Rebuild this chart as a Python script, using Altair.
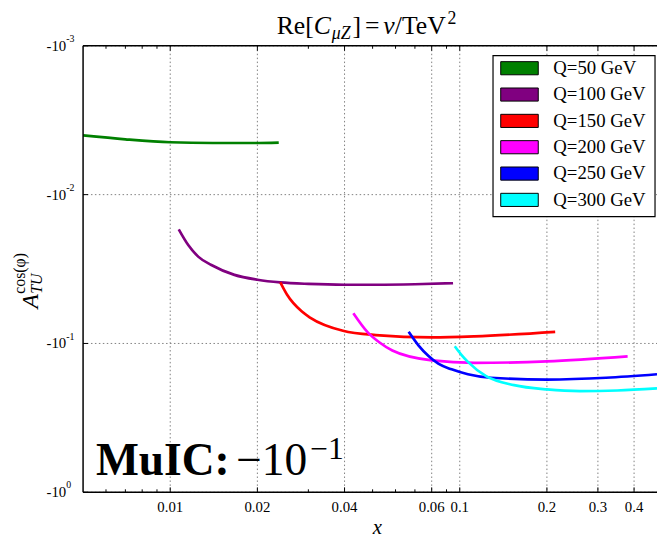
import altair as alt
import pandas as pd

# ---------------- data ----------------
series_labels = ["Q=50 GeV", "Q=100 GeV", "Q=150 GeV", "Q=200 GeV", "Q=250 GeV", "Q=300 GeV"]
series_colors = ["#008000", "#800080", "#ff0000", "#ff00ff", "#0000ff", "#00ffff"]

x_q50 = [0.005, 0.007, 0.01, 0.014, 0.019, 0.0237]
a_q50 = [-4.0e-3, -4.25e-3, -4.45e-3, -4.5e-3, -4.5e-3, -4.47e-3]

x_q100 = [0.0107, 0.01154, 0.01249, 0.01387, 0.01666, 0.02, 0.024, 0.03, 0.04, 0.0513, 0.07, 0.0948]
a_q100 = [-17.1e-3, -21.8e-3, -26.1e-3, -29.7e-3, -34.6e-3, -37.3e-3, -38.9e-3, -39.8e-3, -40.3e-3, -40.3e-3, -40.0e-3, -39.3e-3]

x_q150 = [0.0240, 0.0253, 0.0285, 0.0304, 0.0395, 0.0513, 0.0801, 0.1125, 0.2136]
a_q150 = [-38.9e-3, -46.9e-3, -61.1e-3, -67.0e-3, -82.2e-3, -87.8e-3, -91.0e-3, -89.6e-3, -83.5e-3]

x_q200 = [0.0429, 0.0481, 0.0527, 0.0585, 0.0801, 0.1125, 0.2, 0.38]
a_q200 = [-62.7e-3, -84.3e-3, -98.2e-3, -111.6e-3, -130e-3, -135e-3, -132e-3, -122e-3]

x_q250 = [0.0666, 0.0721, 0.078, 0.0843, 0.0937, 0.1067, 0.128, 0.2, 0.32, 0.48]
a_q250 = [-83.5e-3, -103.4e-3, -121.6e-3, -136.8e-3, -149.3e-3, -161e-3, -170e-3, -174.8e-3, -170e-3, -161e-3]

x_q300 = [0.0961, 0.1013, 0.1067, 0.1233, 0.154, 0.2, 0.26, 0.35, 0.48]
a_q300 = [-104.4e-3, -119.2e-3, -133e-3, -166e-3, -190.5e-3, -203.6e-3, -209e-3, -207e-3, -200.5e-3]

x_tick_values = [0.01, 0.02, 0.04, 0.08, 0.1, 0.2, 0.3, 0.4]
x_tick_labels = ["0.01", "0.02", "0.04", "0.06", "0.1", "0.2", "0.3", "0.4"]
x_minor_ticks = [0.006, 0.007, 0.008, 0.009, 0.03, 0.05, 0.06, 0.07, 0.09]
y_tick_values = [1e-3, 1e-2, 1e-1, 1.0]          # magnitudes of -10^k
y_tick_exponents = ["-3", "-2", "-1", "0"]

# ---------------- tables ----------------
xs_all = [x_q50, x_q100, x_q150, x_q200, x_q250, x_q300]
as_all = [a_q50, a_q100, a_q150, a_q200, a_q250, a_q300]
rows = []
for lab, xv, av in zip(series_labels, xs_all, as_all):
    for xx, aa in zip(xv, av):
        rows.append({"series": lab, "x": xx, "A": aa})
df_lines = pd.DataFrame(rows)

W, H = 581, 452
SERIF = "Liberation Serif"

xscale = alt.Scale(type="log", domain=[0.005, 0.48], nice=False)
yscale = alt.Scale(type="log", domain=[1e-3, 1.0], reverse=True, nice=False)
cscale = alt.Scale(domain=series_labels, range=series_colors)

X = lambda f: alt.X(f, scale=xscale, axis=None)
Y = lambda f: alt.Y(f, scale=yscale, axis=None)

one = pd.DataFrame({"k": [0]})
df_xmaj = pd.DataFrame({"x": x_tick_values, "label": x_tick_labels})
df_xmin = pd.DataFrame({"x": x_minor_ticks})
df_yt = pd.DataFrame({"mag": y_tick_values, "exp": y_tick_exponents})

GRID = dict(color="#808080", strokeWidth=1, strokeDash=[1.5, 2.5])

xgrid = alt.Chart(df_xmaj).mark_rule(**GRID).encode(x=X("x:Q"), y=alt.value(0), y2=alt.value(H))
ygrid = alt.Chart(df_yt).mark_rule(**GRID).encode(y=Y("mag:Q"), x=alt.value(0), x2=alt.value(W))

lines = alt.Chart(df_lines).transform_calculate(mag="-datum.A").mark_line(
    strokeWidth=2.7, interpolate="monotone", clip=True
).encode(
    x=X("x:Q"),
    y=Y("mag:Q"),
    color=alt.Color("series:N", scale=cscale, legend=None),
)

# frame
FR = dict(color="black", strokeWidth=1.5)
frame_top = alt.Chart(one).mark_rule(**FR).encode(x=alt.value(0), x2=alt.value(W), y=alt.value(0))
frame_bot = alt.Chart(one).mark_rule(**FR).encode(x=alt.value(0), x2=alt.value(W), y=alt.value(H))
frame_left = alt.Chart(one).mark_rule(**FR).encode(x=alt.value(0), y=alt.value(0), y2=alt.value(H))

# inward ticks
def xticks(df, y0, y1):
    return alt.Chart(df).mark_rule(color="black", strokeWidth=1).encode(
        x=X("x:Q"), y=alt.value(y0), y2=alt.value(y1))
tk = [xticks(df_xmaj, H, H - 5), xticks(df_xmin, H, H - 3),
      xticks(df_xmaj, 0, 5), xticks(df_xmin, 0, 3)]
ytk = alt.Chart(df_yt).mark_rule(color="black", strokeWidth=1).encode(
    x=alt.value(0), x2=alt.value(5), y=Y("mag:Q"))

# tick labels
xlab = alt.Chart(df_xmaj).mark_text(align="center", baseline="top", font=SERIF,
                                    fontSize=15, color="black").encode(
    x=X("x:Q"), y=alt.value(H + 8), text="label:N")
ylab_base = alt.Chart(df_yt).mark_text(text="-10", align="right", baseline="middle",
                                       font=SERIF, fontSize=15, color="black").encode(
    x=alt.value(-17), y=Y("mag:Q"))
ylab_exp = alt.Chart(df_yt).mark_text(align="left", baseline="middle", dy=-7,
                                      font=SERIF, fontSize=10, color="black").encode(
    x=alt.value(-17), y=Y("mag:Q"), text="exp:N")

def txt(s, x, y, size, style="normal", weight="normal", angle=0, align="left", baseline="alphabetic"):
    kw = dict(text=s, font=SERIF, fontSize=size, fontStyle=style, fontWeight=weight,
              align=align, baseline=baseline, color="black")
    if angle:
        kw["angle"] = angle
    return alt.Chart(one).mark_text(**kw).encode(x=alt.value(x), y=alt.value(y))

# title Re[C_muZ] = v/TeV^2  (pieces)
TS, SS = 26, 18
tb = -12
widths = [("Re[", 1.444 * TS, "normal", TS, 0), ("C", 0.70 * TS, "italic", TS, 0),
          ("μZ", 1.16 * SS, "italic", SS, 5), ("]", 0.333 * TS + 4, "normal", TS, 0),
          ("=", 0.564 * TS + 4, "normal", TS, 0), ("v", 0.444 * TS, "italic", TS, 0),
          ("/TeV", 2.055 * TS, "normal", TS, 0), ("2", 0.5 * SS, "normal", SS, -10)]
total = sum(w for _, w, _, _, _ in widths)
cx = 371 - 84 - total / 2
title_parts = []
for s, w, st, sz, dyy in widths:
    title_parts.append(txt(s, cx, tb + dyy, sz, style=st))
    cx += w

# y label A_TU^{cos(phi)} rotated (positions relative to plot origin)
ylabel = [
    txt("A", -46, 266, 24, style="italic", angle=270),
    txt("TU", -42, 251, 16, style="italic", angle=270),
    txt("cos(φ)", -59, 251, 16, angle=270),
]
xlabel = txt("x", 298, H + 36, 21, style="italic", align="center", baseline="middle")

muic = [
    txt("MuIC:", 13, 434, 46, weight="bold"),
    txt("−10", 155, 434, 46),
    txt("−1", 230, 418, 32),
]

main = alt.layer(xgrid, ygrid, lines, frame_top, frame_bot, frame_left, *tk, ytk,
                 xlab, ylab_base, ylab_exp, *title_parts, *ylabel, xlabel, *muic)

# legend
df_leg = pd.DataFrame({"series": series_labels, "row": list(range(len(series_labels)))})
leg_y = alt.Y("row:Q", scale=alt.Scale(domain=[0, 5], range=[22.7, 156]), axis=None)
leg_box = alt.Chart(one).mark_rect(fill="white", stroke="black", strokeWidth=1.2).encode(
    x=alt.value(415), x2=alt.value(579), y=alt.value(10), y2=alt.value(173))
leg_sw = alt.Chart(df_leg).mark_point(
    shape="M-1,-0.35L1,-0.35L1,0.35L-1,0.35Z", filled=True, size=1444, opacity=1,
    stroke="black", strokeWidth=1
).encode(x=alt.value(441.8), y=leg_y,
         fill=alt.Fill("series:N", scale=cscale, legend=None))
leg_tx = alt.Chart(df_leg).mark_text(align="left", baseline="middle", font=SERIF,
                                     fontSize=19, color="black").encode(
    x=alt.value(476), y=leg_y, text="series:N")
legend = alt.layer(leg_box, leg_sw, leg_tx)

chart = alt.layer(main, legend).resolve_scale(y="independent").properties(
    width=W, height=H, autosize="none",
    padding={"left": 76, "top": 35, "right": 0, "bottom": 42},
).configure_view(stroke=None)

chart.save("out.html", embed_options={"renderer": "svg", "actions": False})
